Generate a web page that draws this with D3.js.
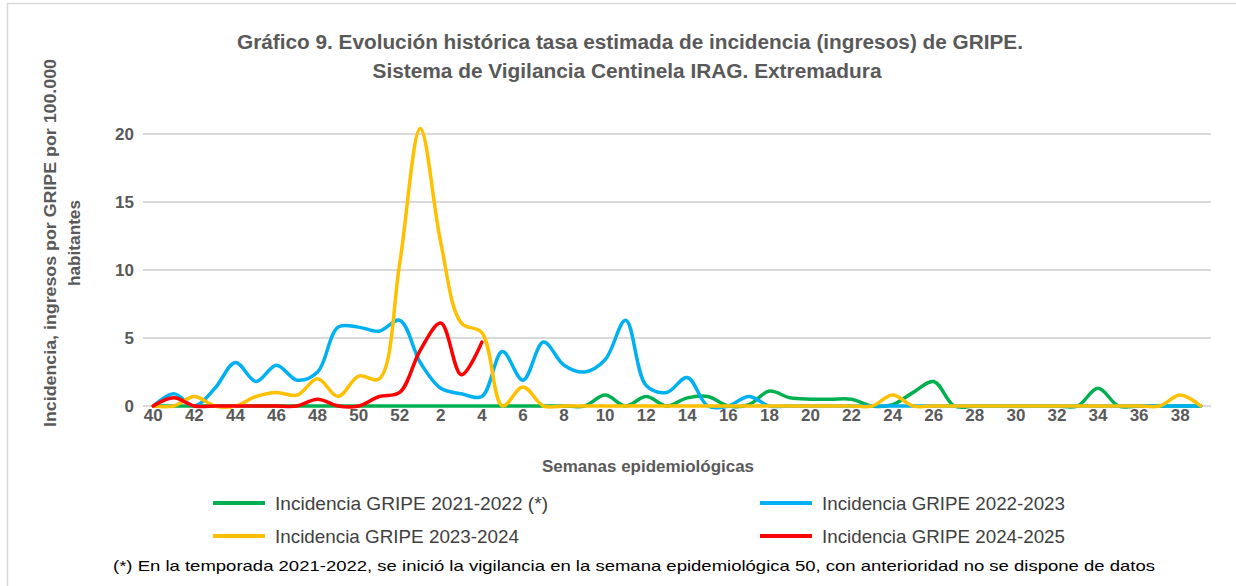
<!DOCTYPE html>
<html>
<head>
<meta charset="utf-8">
<script src="https://cdn.jsdelivr.net/npm/d3@7"></script>
<style>
  body { margin: 0; background: #fff; }
  svg { display: block; font-family: "Liberation Sans", Arial, sans-serif; }
</style>
</head>
<body>
<div id="chart"></div>
<script>
// Semanas epidemiológicas (40..52, 1..39)
const weeks = [40, 41, 42, 43, 44, 45, 46, 47, 48, 49, 50, 51, 52,
  1, 2, 3, 4, 5, 6, 7, 8, 9, 10, 11, 12, 13, 14, 15, 16, 17, 18, 19, 20,
  21, 22, 23, 24, 25, 26, 27, 28, 29, 30, 31, 32, 33, 34, 35, 36, 37, 38, 39];

const yTicks = [0, 5, 10, 15, 20];

// Incidencia por temporada
const gripe2122 = [0, 0, 0, 0, 0, 0, 0, 0, 0, 0, 0, 0, 0,
  0, 0, 0, 0, 0, 0, 0, 0, 0, 0.8, 0, 0.7, 0, 0.6, 0.7, 0, 0.1, 1.1, 0.6, 0.5,
  0.5, 0.5, 0, 0.1, 1.0, 1.8, 0, 0, 0, 0, 0, 0, 0, 1.3, 0, 0, 0, 0, 0];

const gripe2223 = [0, 0.9, 0, 1.3, 3.2, 1.8, 3.0, 1.9, 2.5, 5.8, 5.8, 5.5, 6.3,
  3.2, 1.3, 0.9, 0.7, 4.0, 1.9, 4.7, 3.0, 2.5, 3.4, 6.3, 1.5, 1.0, 2.1, 0, 0, 0.7, 0, 0, 0,
  0, 0, 0, 0, 0, 0, 0, 0, 0, 0, 0, 0, 0, 0, 0, 0, 0, 0, 0];

const gripe2324 = [0, 0, 0.7, 0, 0, 0.7, 1.0, 0.8, 2.0, 0.7, 2.2, 2.0, 10.5,
  20.4, 12.0, 6.1, 5.4, 0, 1.4, 0, 0, 0, 0, 0, 0, 0, 0, 0, 0, 0, 0, 0, 0,
  0, 0, 0, 0.8, 0, 0, 0, 0, 0, 0, 0, 0, 0, 0, 0, 0, 0, 0.8, 0];

const gripe2425 = [0, 0.6, 0, 0, 0, 0, 0, 0, 0.5, 0, 0, 0.7, 1.0,
  4.1, 6.1, 2.3, 4.7];

const seriesNames = ["Incidencia GRIPE 2021-2022 (*)", "Incidencia GRIPE 2022-2023",
  "Incidencia GRIPE 2023-2024", "Incidencia GRIPE 2024-2025"];
const seriesColors = ["#00B050", "#00B0F0", "#FFC000", "#FF0000"];
const seriesValues = [gripe2122, gripe2223, gripe2324, gripe2425];

const width = 1236, height = 586;
const margin = { left: 143, right: 25, top: 134, bottom: 180 };

const svg = d3.select("#chart").append("svg")
  .attr("width", width)
  .attr("height", height);

// marco del gráfico
svg.append("line").attr("x1", 7).attr("x2", width).attr("y1", 3.5).attr("y2", 3.5)
  .attr("stroke", "#d9d9d9").attr("stroke-width", 1.5);
svg.append("line").attr("x1", 7.5).attr("x2", 7.5).attr("y1", 3).attr("y2", height)
  .attr("stroke", "#d9d9d9").attr("stroke-width", 1.5);

const x = d3.scaleBand()
  .domain(weeks.map((w, i) => i))
  .range([margin.left, width - margin.right]);

const y = d3.scaleLinear()
  .domain([0, 20])
  .range([406, 134]);

const cx = i => x(i) + x.bandwidth() / 2;

// texto ajustado a un ancho
function fitText(sel, w) {
  sel.attr("textLength", w).attr("lengthAdjust", "spacingAndGlyphs");
  return sel;
}

// título
fitText(svg.append("text").attr("x", 630).attr("y", 49)
  .attr("text-anchor", "middle").attr("font-size", 20).attr("font-weight", "bold")
  .attr("fill", "#595959")
  .text("Gráfico 9. Evolución histórica tasa estimada de incidencia (ingresos) de GRIPE."), 786);
fitText(svg.append("text").attr("x", 627).attr("y", 78)
  .attr("text-anchor", "middle").attr("font-size", 20).attr("font-weight", "bold")
  .attr("fill", "#595959")
  .text("Sistema de Vigilancia Centinela IRAG. Extremadura"), 509);

// rejilla
svg.append("g")
  .selectAll("line")
  .data(yTicks)
  .enter().append("line")
  .attr("x1", margin.left)
  .attr("x2", width - margin.right)
  .attr("y1", d => y(d))
  .attr("y2", d => y(d))
  .attr("stroke", "#d9d9d9")
  .attr("stroke-width", 2);

// eje Y
const yAxis = svg.append("g")
  .attr("transform", `translate(${margin.left - 9},0)`)
  .call(d3.axisLeft(y).tickValues(yTicks).tickSize(0).tickPadding(0));
yAxis.select(".domain").remove();
yAxis.selectAll("text")
  .attr("font-size", 17).attr("font-weight", "bold").attr("fill", "#595959")
  .attr("font-family", "Liberation Sans, Arial, sans-serif");

// eje X
const xAxis = svg.append("g")
  .attr("transform", `translate(0,${y(0)})`)
  .call(d3.axisBottom(x)
    .tickValues(weeks.map((w, i) => i).filter(i => i % 2 === 0))
    .tickFormat(i => weeks[i])
    .tickSize(0).tickPadding(3));
xAxis.select(".domain").remove();
xAxis.selectAll("text")
  .attr("font-size", 17).attr("font-weight", "bold").attr("fill", "#595959")
  .attr("font-family", "Liberation Sans, Arial, sans-serif");

// títulos de ejes
fitText(svg.append("text").attr("x", 648).attr("y", 472)
  .attr("text-anchor", "middle").attr("font-size", 17).attr("font-weight", "bold")
  .attr("fill", "#595959").text("Semanas epidemiológicas"), 212);

const yTitle = svg.append("g").attr("transform", "translate(0,243) rotate(-90)");
fitText(yTitle.append("text").attr("x", 0).attr("y", 56)
  .attr("text-anchor", "middle").attr("font-size", 17).attr("font-weight", "bold")
  .attr("fill", "#595959").text("Incidencia, ingresos por GRIPE por  100.000"), 368);
fitText(yTitle.append("text").attr("x", 0).attr("y", 80)
  .attr("text-anchor", "middle").attr("font-size", 17).attr("font-weight", "bold")
  .attr("fill", "#595959").text("habitantes"), 86);

// líneas
const line = d3.line()
  .x((d, i) => cx(i))
  .y(d => y(d))
  .curve(d3.curveCatmullRom.alpha(0.5));

svg.append("g")
  .selectAll("path")
  .data(seriesValues)
  .enter().append("path")
  .attr("d", d => line(d))
  .attr("fill", "none")
  .attr("stroke", (d, i) => seriesColors[i])
  .attr("stroke-width", 3.5)
  .attr("stroke-linejoin", "round")
  .attr("stroke-linecap", "round");

// leyenda
const legendPos = [[213, 503], [760, 503], [213, 536], [760, 536]];
const legendWidths = [273, 243, 244, 243];
const legend = svg.append("g")
  .selectAll("g")
  .data(seriesNames)
  .enter().append("g")
  .attr("transform", (d, i) => `translate(${legendPos[i][0]},${legendPos[i][1]})`);

legend.append("line")
  .attr("x1", 0).attr("x2", 52).attr("y1", 0).attr("y2", 0)
  .attr("stroke", (d, i) => seriesColors[i])
  .attr("stroke-width", 4);

legend.append("text")
  .attr("x", 62).attr("y", 7)
  .attr("font-size", 19).attr("fill", "#404040")
  .attr("textLength", (d, i) => legendWidths[i])
  .attr("lengthAdjust", "spacingAndGlyphs")
  .text(d => d);

// nota
fitText(svg.append("text").attr("x", 113).attr("y", 571)
  .attr("font-size", 15).attr("fill", "#000")
  .text("(*) En  la temporada 2021-2022,  se inició la vigilancia en la semana epidemiológica 50, con anterioridad no se dispone de datos"), 1042);
</script>
</body>
</html>
